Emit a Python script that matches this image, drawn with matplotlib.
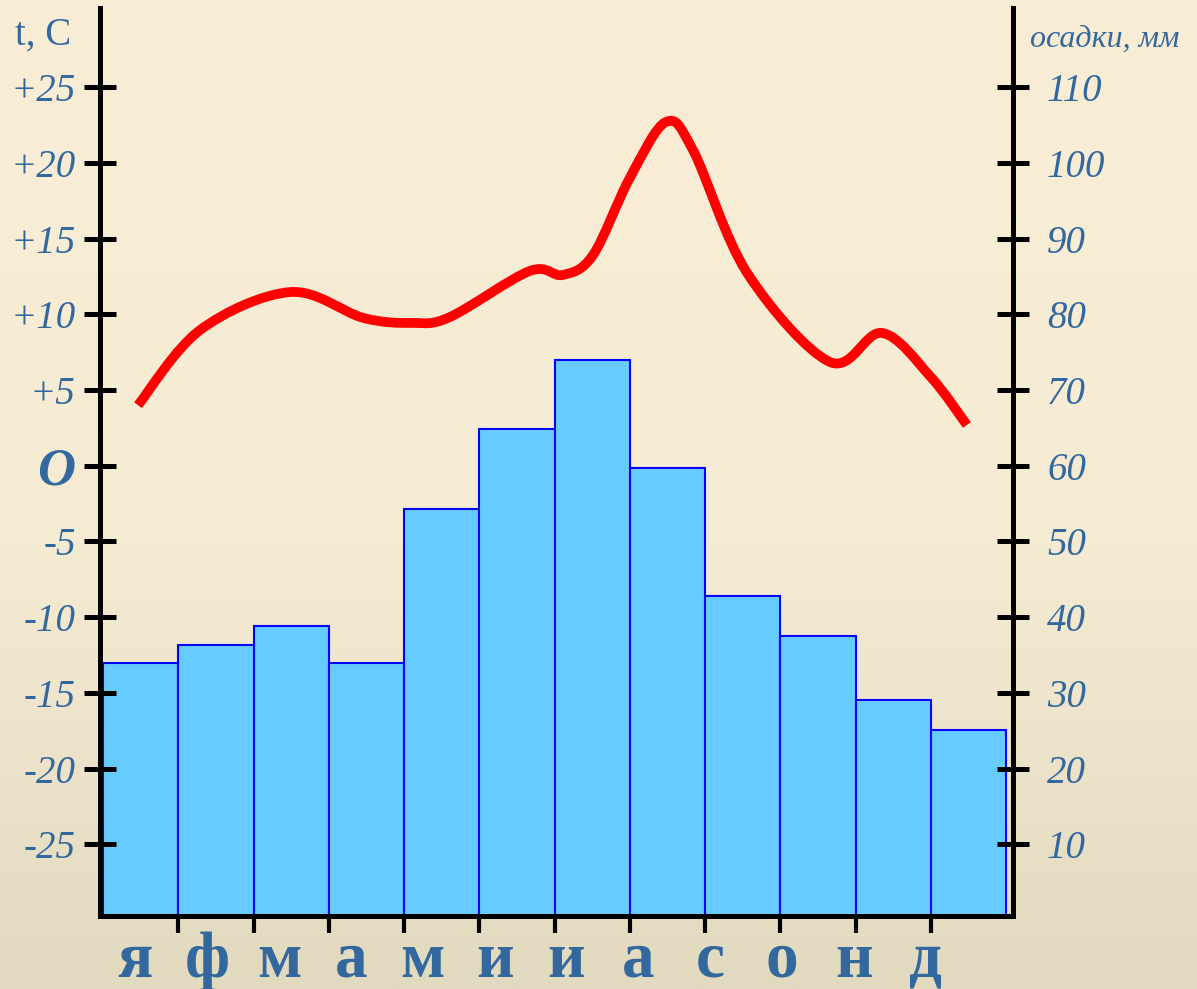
import numpy as np
import matplotlib
matplotlib.use('Agg')
import matplotlib.pyplot as plt
import matplotlib.transforms as mtransforms
from matplotlib.path import Path
from matplotlib.patches import PathPatch

# climate chart data
months = ['я', 'ф', 'м', 'а', 'м', 'и', 'и', 'а', 'с', 'о', 'н', 'д']
precip = [33.9, 36.3, 38.8, 33.9, 54.3, 64.9, 74.0, 59.7, 42.8, 37.5, 29.1, 25.1]  # mm

# temperature curve, points (x in months, Jan = 0)
curve_x = [-0.035, 0.79, 1.99, 2.96, 3.61, 4.11, 5.17, 5.61, 6.01, 6.50,
           6.98, 7.34, 8.06, 9.16, 9.85, 10.5, 10.98]
curve_t = [4.0, 8.96, 11.47, 9.76, 9.43, 9.82, 12.86, 12.6, 13.9, 19.0,
           22.7, 20.85, 12.73, 6.85, 8.77, 5.86, 2.69]

t_ticks = [-25, -20, -15, -10, -5, 0, 5, 10, 15, 20, 25]
t_labels = ['-25', '-20', '-15', '-10', '-5', 'O', '+5', '+10', '+15', '+20', '+25']
p_ticks = [10, 20, 30, 40, 50, 60, 70, 80, 90, 100, 110]
p_labels = [str(v) for v in p_ticks]

BLUE = '#33689E'
SERIF = 'Liberation Serif'

fig = plt.figure(figsize=(11.97, 9.89), dpi=100)

# background gradient
bg = fig.add_axes([0, 0, 1, 1])
stops_y = [0.0, 0.55, 1.0]
stops_c = np.array([[250, 237, 213], [245, 235, 211], [226, 218, 191]]) / 255.0
yy = np.linspace(0, 1, 400)
grad = np.stack([np.interp(yy, stops_y, stops_c[:, k]) for k in range(3)], axis=1)
bg.imshow(grad[:, None, :], aspect='auto', extent=[0, 1, 0, 1], origin='upper')
bg.axis('off')

rect = [100 / 1197, 73 / 989, 913 / 1197, 908 / 989]
ax_t = fig.add_axes(rect)
ax_p = ax_t.twinx()
ax_t.set_zorder(ax_p.get_zorder() + 1)
ax_t.patch.set_visible(False)
ax_p.patch.set_visible(False)

# precipitation bars
x = np.arange(len(months))
ax_p.bar(x, precip, width=1.0, color='#66CCFF', edgecolor='#0000FF', linewidth=1.5)

# smooth temperature line (catmull-rom -> bezier)
pts = np.column_stack([curve_x, curve_t])
n = len(pts)
verts = [pts[0]]
codes = [Path.MOVETO]
for i in range(n - 1):
    p0 = pts[i - 1] if i > 0 else pts[i]
    p1 = pts[i]
    p2 = pts[i + 1]
    p3 = pts[i + 2] if i + 2 < n else pts[i + 1]
    verts += [p1 + (p2 - p0) / 6, p2 - (p3 - p1) / 6, p2]
    codes += [Path.CURVE4] * 3
ax_t.add_patch(PathPatch(Path(verts, codes), fill=False, edgecolor='#FF0000',
                         linewidth=7, capstyle='butt', joinstyle='round'))

ax_t.set_xlim(-0.54, 11.593)
ax_t.set_ylim(-29.74, 30.23)
ax_p.set_ylim(0.52, 120.46)

# spines
for s in ['top', 'right']:
    ax_t.spines[s].set_visible(False)
for s in ['top', 'left', 'bottom']:
    ax_p.spines[s].set_visible(False)
for sp in [ax_t.spines['left'], ax_t.spines['bottom'], ax_p.spines['right']]:
    sp.set_linewidth(3.6)
    sp.set_color('black')
    sp.set_capstyle('projecting')

# ticks
ax_t.set_xticks(np.arange(0.5, 11, 1.0))
ax_t.tick_params(axis='x', direction='out', length=12, width=3, color='black',
                 labelbottom=False)
ax_t.set_yticks(t_ticks, t_labels)
ax_t.tick_params(axis='y', direction='inout', length=23, width=3.6, color='black', pad=6)
ax_p.set_yticks(p_ticks, p_labels)
ax_p.tick_params(axis='y', direction='inout', length=23, width=3.6, color='black', pad=13)

for lbl in ax_t.get_yticklabels() + ax_p.get_yticklabels():
    lbl.set_family(SERIF)
    lbl.set_style('italic')
    lbl.set_fontsize(28)
    lbl.set_color(BLUE)
zero = ax_t.get_yticklabels()[t_ticks.index(0)]
zero.set_fontsize(38)
zero.set_fontweight('bold')

# month letters under the axis
trans = mtransforms.blended_transform_factory(ax_t.transData, ax_t.transAxes)
for i, lab in enumerate(months):
    ax_t.text(i * 0.955 - 0.07, -0.067, lab, transform=trans, ha='center',
              va='baseline', fontsize=47, fontweight='bold', family=SERIF,
              color=BLUE, clip_on=False)

# axis titles
fig.text(15 / 1197, 1 - 45 / 989, 't, C', family=SERIF, fontsize=28, color=BLUE,
         ha='left', va='baseline')
fig.text(1030 / 1197, 1 - 47 / 989, 'осадки, мм', family=SERIF, style='italic',
         fontsize=23, color=BLUE, ha='left', va='baseline')

fig.savefig('out.png', dpi=100)
